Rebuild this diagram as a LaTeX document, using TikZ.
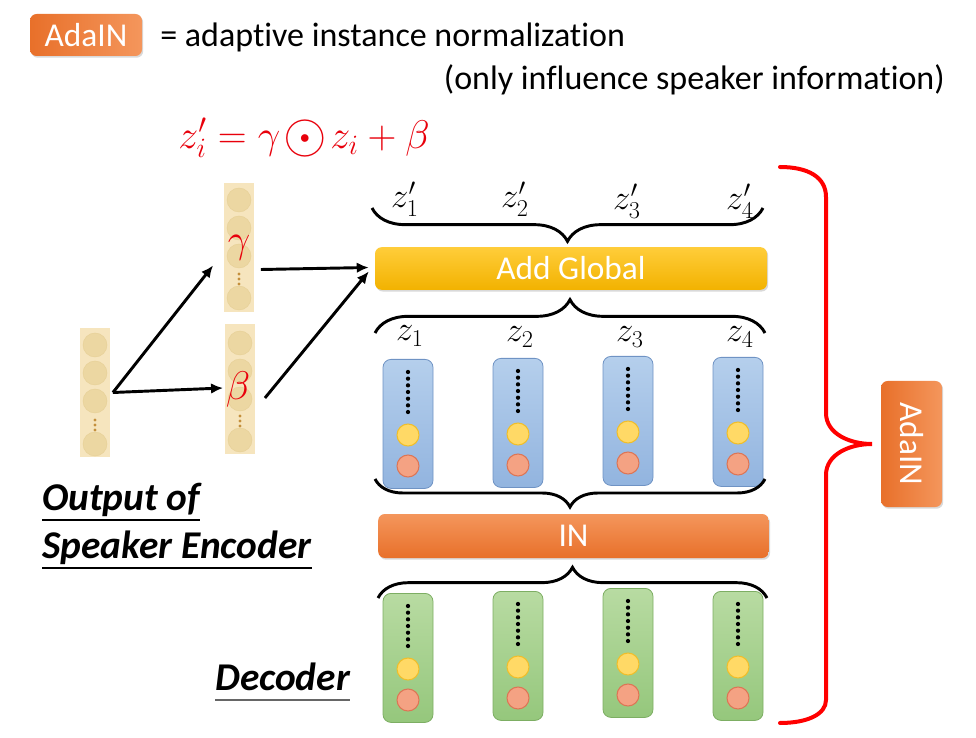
\RequirePackage{fix-cm}
\documentclass[tikz,border=0pt]{standalone}
\usepackage{fontspec}
\usepackage{graphicx}
\setmainfont{Carlito}[Ligatures=NoCommon]
\usetikzlibrary{arrows.meta,decorations.pathreplacing,shadows,calc}

\definecolor{orDark}{HTML}{E8702A}
\definecolor{orLight}{HTML}{F4965C}
\definecolor{ylTop}{HTML}{FFCD3A}
\definecolor{ylBot}{HTML}{F2B200}
\definecolor{blTop}{HTML}{B5CFEC}
\definecolor{blBot}{HTML}{92B4DF}
\definecolor{blEdge}{HTML}{6F93C4}
\definecolor{grTop}{HTML}{B8DBA2}
\definecolor{grBot}{HTML}{95C77C}
\definecolor{grEdge}{HTML}{7DAE63}
\definecolor{beigeBg}{HTML}{F6E5BE}
\definecolor{beigeDot}{HTML}{ECD7A2}
\definecolor{beigeEdge}{HTML}{E6CF95}
\definecolor{brownDot}{HTML}{C48F3C}
\definecolor{yDot}{HTML}{FFD966}
\definecolor{yEdge}{HTML}{F0BE2A}
\definecolor{rDot}{HTML}{F4A283}
\definecolor{rEdge}{HTML}{DD7555}
\definecolor{mathRed}{HTML}{E8000B}
\definecolor{braceRed}{HTML}{FF0000}

% a large circled dot for the element-wise product, set tight
\newcommand\hadamard{\mathord{\mkern1.5mu\vcenter{\hbox{\scalebox{1.4}{$\odot$}}}\mkern1.5mu}}

\tikzset{
  softshadow/.style={drop shadow={opacity=.3,shadow xshift=.9pt,shadow yshift=-1.3pt}},
  badgeH/.style={rounded corners=5pt, left color=orDark, right color=orLight,
    text=white, font=\fontsize{25}{28}\selectfont, softshadow},
  barY/.style={rounded corners=5pt, top color=ylTop, bottom color=ylBot,
    text=white, font=\fontsize{25}{28}\selectfont, softshadow,
    minimum width=294pt, minimum height=32pt},
  barO/.style={rounded corners=5pt, top color=orLight, bottom color=orDark,
    text=white, font=\fontsize{25}{28}\selectfont, softshadow,
    minimum width=293pt, minimum height=33pt},
  bluecol/.style={rounded corners=6pt, top color=blTop, bottom color=blBot,
    draw=blEdge, line width=.6pt},
  greencol/.style={rounded corners=6pt, top color=grTop, bottom color=grBot,
    draw=grEdge, line width=.6pt},
  ydot/.style={circle, minimum size=16.5pt, inner sep=0pt, fill=yDot, draw=yEdge, line width=.8pt},
  rdot/.style={circle, minimum size=16.5pt, inner sep=0pt, fill=rDot, draw=rEdge, line width=.8pt},
  beigecol/.style={fill=beigeBg, minimum width=22pt, minimum height=96.75pt, inner sep=0pt},
  bcirc/.style={circle, minimum size=18pt, inner sep=0pt, fill=beigeDot, draw=beigeEdge, line width=.3pt},
  arr/.style={line width=2.2pt, -{Latex[length=9pt,width=8pt]}},
  blackbrace/.style={decorate, line width=2.2pt, decoration={brace, amplitude=#1}},
  zlab/.style={font=\fontsize{26}{28}\selectfont},
  note/.style={font=\fontsize{25.5}{30}\selectfont},
  heading/.style={font=\fontsize{29.5}{33}\selectfont\bfseries\itshape}
}

% one feature column: name, centre x, top y, style
\newcommand\featcol[4]{%
  \node[#4, minimum width=37.5pt, minimum height=96.75pt, anchor=north] (#1) at (#2,#3) {};
  \foreach \k in {0,...,6} \fill (#2,#3+13+\k*6.67) circle (1.6pt);
  \node[ydot] (#1y) at (#2,#3+76) {};
  \node[rdot] (#1r) at (#2,#3+107) {};
}

% small brown ellipsis inside a beige column
\newcommand\browndots[2]{%
  \foreach \k in {-1,0,1} \fill[brownDot] (#1,#2+\k*5) circle (1.2pt);
}

\begin{document}
\begin{tikzpicture}[x=0.75pt, y=-0.75pt]
\useasboundingbox (0,0) rectangle (976,738);

% legend
\node[badgeH, minimum width=84pt, minimum height=31.5pt] (legend) at (86,35) {AdaIN};
\node[note, anchor=base west, inner sep=0pt] (legtxt) at (160,47) {= adaptive instance normalization};
\node[note, anchor=base east, inner sep=0pt] (legsub) at (945,90) {(only influence speaker information)};

% formula
\node[text=mathRed, font=\fontsize{30}{32}\selectfont, inner sep=0pt] (formula) at (304,138)
  {$z_i' = \gamma\hadamard z_i + \beta$};

% speaker encoder output column
\node[beigecol] (enc) at (95,392.5) {};
\node[bcirc] (e1) at (95,345) {};
\node[bcirc] (e2) at (95,373) {};
\node[bcirc] (e3) at (95,401) {};
\browndots{95}{425}
\node[bcirc] (e4) at (95,444) {};

% gamma column
\node[beigecol] (gcol) at (239,247.5) {};
\node[bcirc] (g1) at (239,200) {};
\node[bcirc] (g2) at (239,228) {};
\node[bcirc] (g3) at (239,256) {};
\browndots{239}{279}
\node[bcirc] (g4) at (239,298) {};
\node[text=mathRed, font=\fontsize{30}{32}\selectfont, inner sep=0pt] (gam) at (239,248) {$\gamma$};

% beta column
\node[beigecol] (bcol) at (240,389) {};
\node[bcirc] (b1) at (240,343) {};
\node[bcirc] (b2) at (240,371) {};
\node[bcirc] (b3) at (240,399) {};
\browndots{240}{421}
\node[bcirc] (b4) at (240,440) {};
\node[text=mathRed, font=\fontsize{30}{32}\selectfont, inner sep=0pt] (bet) at (238,390) {$\beta$};

% arrow end points
\coordinate (encout) at ($(enc.east)+(3,0)$);
\coordinate (gin) at ($(gcol.west)+(-11,18)$);
\coordinate (bin) at ($(bcol.west)+(-2,-1)$);
\coordinate (gout) at ($(gcol.east)+(7,22)$);
\coordinate (bout) at ($(bcol.east)+(10,9)$);

% Add Global / IN bars
\node[barY] (addg) at (571,268.5) {Add Global};
\node[barO] (inbar) at (573.5,536) {IN};
\coordinate (ag1) at ($(addg.west)+(-6,-1)$);
\coordinate (ag2) at ($(addg.west)+(-6,3)$);

\draw[arr] (encout) -- (gin);
\draw[arr] (encout) -- (bin);
\draw[arr] (gout) -- (ag1);
\draw[arr] (bout) -- (ag2);

% labels
\node[zlab] (zp1) at (405,199) {$z_1'$};
\node[zlab] (zp2) at (515,199) {$z_2'$};
\node[zlab] (zp3) at (627,201) {$z_3'$};
\node[zlab] (zp4) at (740,201) {$z_4'$};
\node[zlab] (z1) at (410,336) {$z_1$};
\node[zlab] (z2) at (520,337) {$z_2$};
\node[zlab] (z3) at (630,337) {$z_3$};
\node[zlab] (z4) at (740,337) {$z_4$};

% feature columns
\featcol{bc1}{408}{359}{bluecol}
\featcol{bc2}{518}{358}{bluecol}
\featcol{bc3}{628}{356}{bluecol}
\featcol{bc4}{738}{357}{bluecol}
\featcol{gc1}{408}{593}{greencol}
\featcol{gc2}{518}{591}{greencol}
\featcol{gc3}{628}{588}{greencol}
\featcol{gc4}{738}{591}{greencol}

% braces
\draw[blackbrace=25pt] (763,208) -- (372,208);
\draw[blackbrace=25pt] (375,333) -- (765,333);
\draw[blackbrace=21pt] (765,479) -- (375,479);
\draw[blackbrace=23pt] (378,598) -- (767,598);

% AdaIN brace
\draw[braceRed, line width=3pt, line cap=round]
  (780,167) .. controls (808,167) and (826,177) .. (826,197)
  -- (826,413) .. controls (826,434) and (850,444) .. (872,444)
  .. controls (850,444) and (826,454) .. (826,475)
  -- (826,700) .. controls (826,714) and (808,723) .. (780,723);
\node[badgeH, minimum width=45.75pt, minimum height=94.5pt, inner sep=0pt] (adain) at (911.5,444)
  {\rotatebox{-90}{AdaIN}};

% captions
\node[heading, anchor=base west, inner sep=0pt] (cap1) at (42,510) {Output of};
\node[heading, anchor=base west, inner sep=0pt] (cap2) at (42,558) {Speaker Encoder};
\node[heading, anchor=base west, inner sep=0pt] (cap3) at (215,690) {Decoder};
\draw[line width=1.5pt] (cap1.base west) ++(0,10) -- ($(cap1.base east)+(0,10)$);
\draw[line width=1.5pt] (cap2.base west) ++(0,10) -- ($(cap2.base east)+(0,10)$);
\draw[line width=1.5pt, black!60] (cap3.base west) ++(0,10) -- ($(cap3.base east)+(0,10)$);
\end{tikzpicture}
\end{document}
